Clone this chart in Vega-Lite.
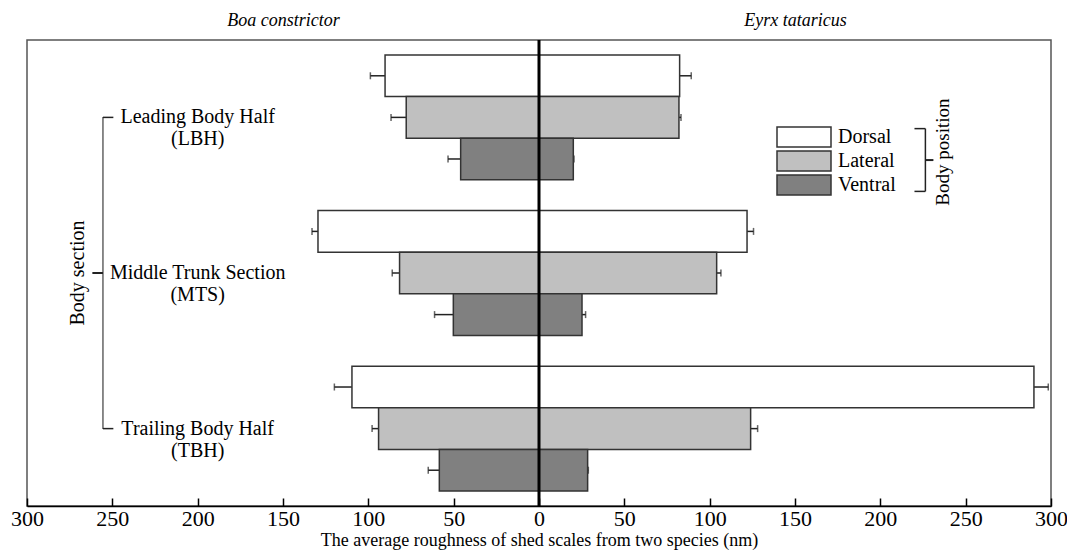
{
  "$schema": "https://vega.github.io/schema/vega-lite/v6.json",
  "width": 1024,
  "height": 466,
  "autosize": {"type": "none"},
  "padding": {"left": 27, "top": 40, "right": 16, "bottom": 50},
  "background": "white",
  "config": {
    "view": {"stroke": "#555", "strokeWidth": 1.5},
    "font": "Liberation Serif",
    "text": {"font": "Liberation Serif", "color": "black"},
    "axis": {"labelFont": "Liberation Serif", "titleFont": "Liberation Serif", "labelColor": "black", "titleColor": "black", "titleFontWeight": "normal", "grid": false},
    "legend": {"labelFont": "Liberation Serif", "labelColor": "black"}
  },
  "datasets": {
    "bars": [
      {"section": "LBH", "position": "Dorsal", "species": "Boa constrictor", "value": -90.2, "errEnd": -98.8},
      {"section": "LBH", "position": "Lateral", "species": "Boa constrictor", "value": -77.8, "errEnd": -86.7},
      {"section": "LBH", "position": "Ventral", "species": "Boa constrictor", "value": -45.9, "errEnd": -53.3},
      {"section": "MTS", "position": "Dorsal", "species": "Boa constrictor", "value": -129.5, "errEnd": -133.0},
      {"section": "MTS", "position": "Lateral", "species": "Boa constrictor", "value": -81.7, "errEnd": -86.0},
      {"section": "MTS", "position": "Ventral", "species": "Boa constrictor", "value": -50.2, "errEnd": -61.2},
      {"section": "TBH", "position": "Dorsal", "species": "Boa constrictor", "value": -109.6, "errEnd": -119.9},
      {"section": "TBH", "position": "Lateral", "species": "Boa constrictor", "value": -94.0, "errEnd": -97.8},
      {"section": "TBH", "position": "Ventral", "species": "Boa constrictor", "value": -58.4, "errEnd": -64.9},
      {"section": "LBH", "position": "Dorsal", "species": "Eyrx tataricus", "value": 82.4, "errEnd": 89.2},
      {"section": "LBH", "position": "Lateral", "species": "Eyrx tataricus", "value": 82.0, "errEnd": 83.2},
      {"section": "LBH", "position": "Ventral", "species": "Eyrx tataricus", "value": 20.1, "errEnd": 20.5},
      {"section": "MTS", "position": "Dorsal", "species": "Eyrx tataricus", "value": 121.9, "errEnd": 125.7},
      {"section": "MTS", "position": "Lateral", "species": "Eyrx tataricus", "value": 104.1, "errEnd": 106.6},
      {"section": "MTS", "position": "Ventral", "species": "Eyrx tataricus", "value": 25.2, "errEnd": 27.3},
      {"section": "TBH", "position": "Dorsal", "species": "Eyrx tataricus", "value": 290.0, "errEnd": 298.4},
      {"section": "TBH", "position": "Lateral", "species": "Eyrx tataricus", "value": 124.0, "errEnd": 128.1},
      {"section": "TBH", "position": "Ventral", "species": "Eyrx tataricus", "value": 28.5, "errEnd": 28.9}
    ],
    "sections": [
      {"section": "LBH", "label": "Leading Body Half\n(LBH)"},
      {"section": "MTS", "label": "Middle Trunk Section\n(MTS)"},
      {"section": "TBH", "label": "Trailing Body Half\n(TBH)"}
    ],
    "one": [{"note": "annotation"}]
  },
  "data": {"name": "bars"},
  "layer": [
    {
      "mark": {"type": "rule", "color": "#222", "strokeWidth": 1.5},
      "encoding": {
        "x": {"field": "value", "type": "quantitative",
          "scale": {"domain": [-300, 300], "nice": false, "zero": false},
          "axis": {"orient": "top", "values": [-150, 150], "labelExpr": "datum.value < 0 ? 'Boa constrictor' : 'Eyrx tataricus'", "ticks": false, "domain": false, "labelFlush": false, "labelFontStyle": "italic", "labelFontSize": 18, "labelPadding": 11, "title": null}},
        "x2": {"field": "errEnd"},
        "y": {"field": "section", "type": "nominal", "sort": ["LBH", "MTS", "TBH"], "scale": {"paddingInner": 0.198, "paddingOuter": 0.0963}, "axis": null},
        "yOffset": {"field": "position", "type": "nominal", "sort": ["Dorsal", "Lateral", "Ventral"], "scale": {"paddingInner": 0, "paddingOuter": 0}}
      }
    },
    {
      "mark": {"type": "tick", "color": "#222", "thickness": 1.5, "size": 7},
      "encoding": {
        "x": {"field": "errEnd", "type": "quantitative", "axis": null},
        "y": {"field": "section", "type": "nominal", "sort": ["LBH", "MTS", "TBH"], "axis": null},
        "yOffset": {"field": "position", "type": "nominal", "sort": ["Dorsal", "Lateral", "Ventral"]}
      }
    },
    {
      "mark": {"type": "bar", "stroke": "#333", "strokeWidth": 1.5, "opacity": 1},
      "encoding": {
        "x": {"field": "value", "type": "quantitative",
          "axis": {"orient": "bottom", "values": [-300, -250, -200, -150, -100, -50, 0, 50, 100, 150, 200, 250, 300], "labelExpr": "'' + abs(datum.value)", "labelFlush": false, "labelOverlap": false, "labelFontSize": 22, "tickSize": -8, "tickColor": "black", "tickWidth": 1.5, "labelPadding": 10, "domainColor": "black", "domainWidth": 1.5, "title": "The average roughness of shed scales from two species (nm)", "titleFontSize": 18, "titlePadding": 2}},
        "y": {"field": "section", "type": "nominal", "sort": ["LBH", "MTS", "TBH"], "axis": null},
        "yOffset": {"field": "position", "type": "nominal", "sort": ["Dorsal", "Lateral", "Ventral"]},
        "fill": {"field": "position", "type": "nominal",
          "scale": {"domain": ["Dorsal", "Lateral", "Ventral"], "range": ["#ffffff", "#c0c0c0", "#808080"]},
          "legend": {"title": null, "orient": "none", "legendX": 766, "legendY": 86, "symbolType": "M-2.7,-1H2.7V1H-2.7Z", "symbolSize": 400, "symbolStrokeColor": "#333", "symbolStrokeWidth": 1.5, "symbolOpacity": 1, "labelFontSize": 20, "labelOffset": 23, "rowPadding": -2}}
      }
    },
    {
      "data": {"name": "one"},
      "mark": {"type": "rule", "color": "black", "strokeWidth": 3},
      "encoding": {"x": {"datum": 0, "axis": null}}
    },
    {
      "data": {"name": "sections"},
      "mark": {"type": "text", "fontSize": 20, "align": "center", "baseline": "middle", "lineBreak": "\n", "lineHeight": 22},
      "encoding": {
        "x": {"datum": -200, "axis": null},
        "y": {"field": "section", "type": "nominal", "axis": null},
        "text": {"field": "label"}
      }
    },
    {
      "data": {"name": "one"},
      "mark": {"type": "tick", "color": "#222", "thickness": 1.5, "size": 312},
      "encoding": {"x": {"datum": -255.5, "axis": null}, "y": {"datum": "MTS", "axis": null}}
    },
    {
      "data": {"name": "sections"},
      "transform": [{"filter": "datum.section !== 'MTS'"}],
      "mark": {"type": "rule", "color": "#222", "strokeWidth": 1.5},
      "encoding": {"x": {"datum": -255.5, "axis": null}, "x2": {"datum": -249.4}, "y": {"field": "section", "type": "nominal", "axis": null}}
    },
    {
      "data": {"name": "one"},
      "mark": {"type": "rule", "color": "#222", "strokeWidth": 2},
      "encoding": {"x": {"datum": -261.7, "axis": null}, "x2": {"datum": -255.5}, "y": {"datum": "MTS", "axis": null}}
    },
    {
      "data": {"name": "one"},
      "mark": {"type": "text", "fontSize": 20, "angle": 270, "align": "center", "baseline": "middle", "text": "Body section"},
      "encoding": {"x": {"datum": -270, "axis": null}, "y": {"datum": "MTS", "axis": null}}
    },
    {
      "data": {"name": "one"},
      "mark": {"type": "rule", "color": "#222", "strokeWidth": 1.5},
      "encoding": {"x": {"datum": 226.4, "axis": null}, "y": {"datum": "LBH", "bandPosition": 0.59, "axis": null}, "y2": {"datum": "LBH", "bandPosition": 1.093}}
    },
    {
      "data": {"name": "one"},
      "mark": {"type": "rule", "color": "#222", "strokeWidth": 1.5},
      "encoding": {"x": {"datum": 220.0, "axis": null}, "x2": {"datum": 226.4}, "y": {"datum": "LBH", "bandPosition": 0.59, "axis": null}}
    },
    {
      "data": {"name": "one"},
      "mark": {"type": "rule", "color": "#222", "strokeWidth": 1.5},
      "encoding": {"x": {"datum": 220.0, "axis": null}, "x2": {"datum": 226.4}, "y": {"datum": "LBH", "bandPosition": 1.093, "axis": null}}
    },
    {
      "data": {"name": "one"},
      "mark": {"type": "rule", "color": "#222", "strokeWidth": 2},
      "encoding": {"x": {"datum": 226.4, "axis": null}, "x2": {"datum": 231.1}, "y": {"datum": "LBH", "bandPosition": 0.842, "axis": null}}
    },
    {
      "data": {"name": "one"},
      "mark": {"type": "text", "fontSize": 19, "angle": 270, "align": "center", "baseline": "middle", "text": "Body position"},
      "encoding": {"x": {"datum": 237, "axis": null}, "y": {"datum": "LBH", "bandPosition": 0.778, "axis": null}}
    }
  ]
}
